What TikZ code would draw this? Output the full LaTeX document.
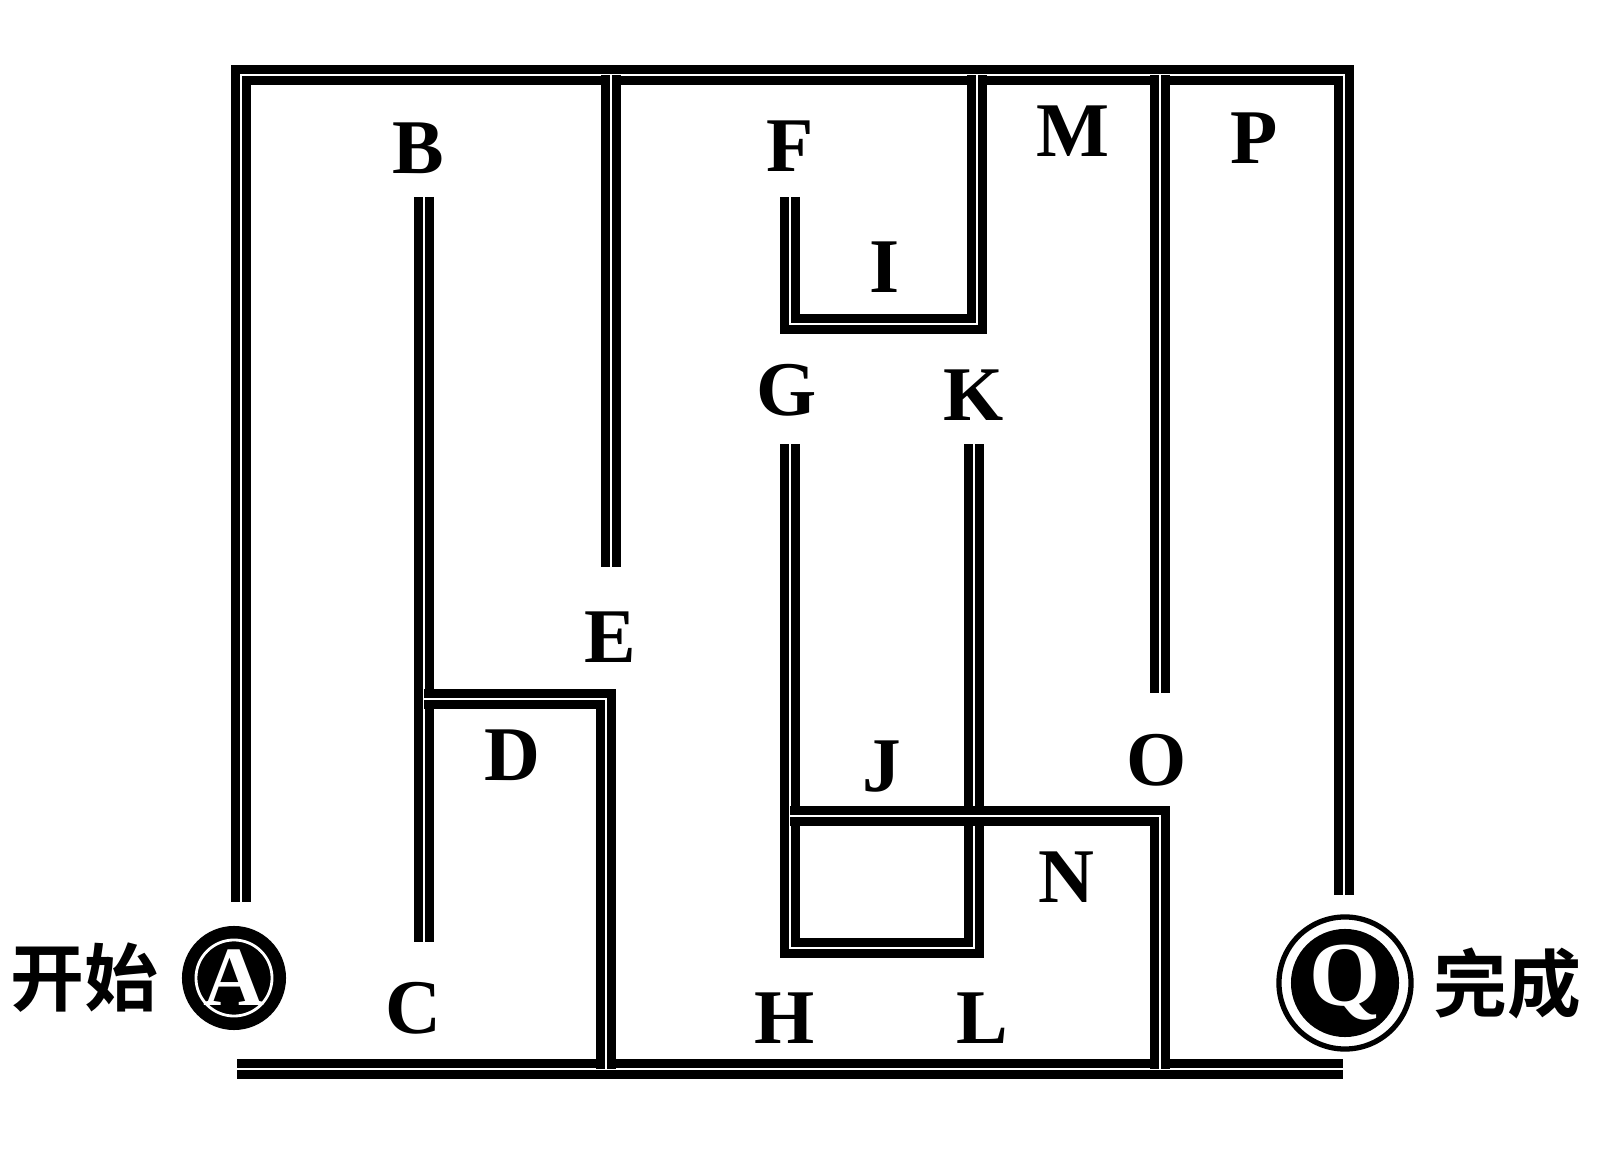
\documentclass[tikz,border=0pt]{standalone}
\usepackage{fontspec}
\setmainfont{Liberation Serif}
\newfontfamily\cjk{Noto Sans CJK SC Bold}
\usetikzlibrary{positioning}

\begin{document}
\begin{tikzpicture}[
  x=0.01cm, y=-0.01cm,
  wall/.style={draw, line width=2.75pt, double, double distance=0.4pt},
  room/.style={font=\fontsize{22}{24}\selectfont\bfseries, inner sep=0pt},
  startmark/.style={circle, fill=black, text=white, minimum size=1.04cm, inner sep=0pt,
    font=\fontsize{24}{24}\selectfont\bfseries},
  finishmark/.style={circle, fill=black, text=white, minimum size=1.08cm, inner sep=0pt,
    font=\fontsize{26}{26}\selectfont\bfseries},
  sign/.style={font=\cjk\fontsize{21}{21}\selectfont, inner sep=0pt},
]
  \useasboundingbox (0,0) rectangle (1599,1152);

  % outer walls
  \draw[wall] (241,902) -- (241,75) -- (1344,75) -- (1344,895);
  \draw[wall] (237,1069) -- (1343,1069);

  % left part
  \draw[wall] (424,197) -- (424,942);
  \draw[wall] (424,699) -- (606,699) -- (606,1069);
  \draw[wall] (611,75) -- (611,567);

  % middle part
  \draw[wall] (790,197) -- (790,324) -- (977,324) -- (977,75);
  \draw[wall] (790,444) -- (790,948) -- (974,948) -- (974,444);
  \draw[wall] (790,816) -- (1160,816) -- (1160,1069);
  \draw[wall] (1160,75) -- (1160,693);

  % rooms
  \node[room] (B) at (418,148) {B};
  \node[room] (C) at (413,1008) {C};
  \node[room] (D) at (512,755) {D};
  \node[room] (E) at (610,637) {E};
  \node[room] (F) at (790,146) {F};
  \node[room] (G) at (787,390) {G};
  \node[room] (H) at (785,1018) {H};
  \node[room] (I) at (885,267) {I};
  \node[room] (J) at (882,767) {J};
  \node[room] (K) at (974,395) {K};
  \node[room] (L) at (982,1018) {L};
  \node[room] (M) at (1073,131) {M};
  \node[room] (N) at (1066,877) {N};
  \node[room] (O) at (1157,760) {O};
  \node[room] (P) at (1254,138) {P};

  % start and finish
  \node[startmark] (A) at (234,978) {A};
  \draw[white, line width=0.8pt] (A) circle (0.38cm);
  \node[sign, left=0.22cm of A] (start) {开始};

  \node[finishmark] (Q) at (1345,983) {Q};
  \draw[line width=1.5pt] (Q) circle (0.66cm);
  \node[sign, right=0.19cm of Q.east, xshift=0.14cm] (finish) {完成};
\end{tikzpicture}
\end{document}
